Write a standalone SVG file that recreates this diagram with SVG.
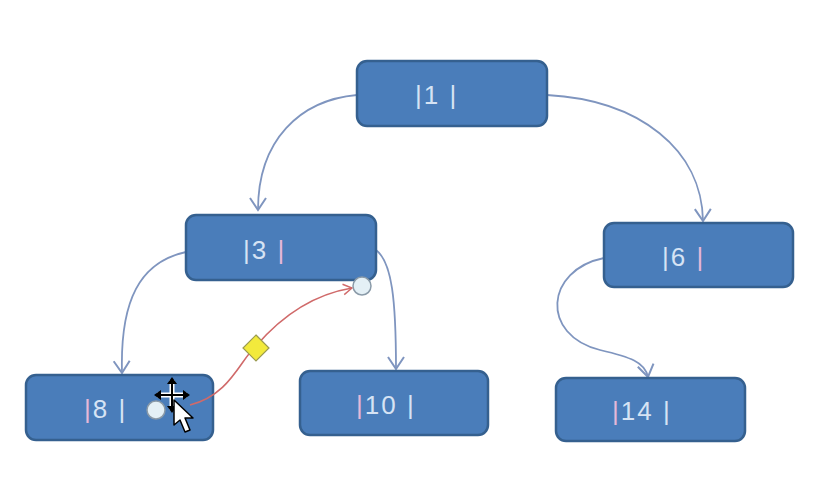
<svg xmlns="http://www.w3.org/2000/svg" width="826" height="490" viewBox="0 0 826 490">
<defs>
<marker id="chev" viewBox="0 0 20 20" refX="18" refY="10" markerWidth="20" markerHeight="20" markerUnits="userSpaceOnUse" orient="auto">
<path d="M6,2 L18,10 L6,18" fill="none" stroke="#7f95bf" stroke-width="2"/>
</marker>
<marker id="redarr" viewBox="0 0 16 16" refX="14" refY="8" markerWidth="14" markerHeight="14" markerUnits="userSpaceOnUse" orient="auto">
<path d="M4,2 L14,8 L4,14" fill="none" stroke="#d06a6a" stroke-width="1.6"/>
</marker>
</defs>
<style>
.box{fill:#4a7dba;stroke:#35608f;stroke-width:2.5}
.lbl{font-family:"Liberation Sans","DejaVu Sans",sans-serif;font-size:26px;letter-spacing:2px;fill:#d6e3f4}
.p{fill:#e6b8d8}
.edge{fill:none;stroke:#7f95bf;stroke-width:1.8}
</style>
<rect width="826" height="490" fill="#ffffff"/>
<g id="connectors">
<path class="edge" d="M357,95 C300,100 258,140 258,210" marker-end="url(#chev)"/>
<path class="edge" d="M547,95 C640,100 702,150 703,221" marker-end="url(#chev)"/>
<path class="edge" d="M186,252 C140,262 120,300 122,373" marker-end="url(#chev)"/>
<path class="edge" d="M376,250 C392,262 396,300 396,369" marker-end="url(#chev)"/>
<path class="edge" d="M604,258 C545,270 540,335 600,350 C630,357 645,362 648,377" marker-end="url(#chev)"/>
</g>
<g id="n1"><rect class="box" x="357" y="61" width="190" height="65" rx="10"/><text class="lbl" x="415" y="104">|1 |</text></g>
<g id="n3"><rect class="box" x="186" y="215" width="190" height="65" rx="10"/><text class="lbl" x="243" y="259">|3 <tspan class="p">|</tspan></text></g>
<g id="n6"><rect class="box" x="604" y="223" width="189" height="64" rx="10"/><text class="lbl" x="662" y="266">|6 <tspan class="p">|</tspan></text></g>
<g id="n8"><rect class="box" x="26" y="375" width="187" height="65" rx="10"/><text class="lbl" x="84" y="418"><tspan class="p">|</tspan>8 |</text></g>
<g id="n10"><rect class="box" x="300" y="371" width="188" height="64" rx="10"/><text class="lbl" x="356" y="414"><tspan class="p">|</tspan>10 |</text></g>
<g id="n14"><rect class="box" x="556" y="378" width="189" height="63" rx="10"/><text class="lbl" x="612" y="420"><tspan class="p">|</tspan>14 |</text></g>
<g id="selection">
<path d="M190,405 C230,395 240,360 256,346 C280,318 310,295 352,288" fill="none" stroke="#d06a6a" stroke-width="1.6" marker-end="url(#redarr)"/>
<circle cx="362" cy="286" r="9" fill="#e4f0f6" stroke="#8a9aa8" stroke-width="1.5"/>
<circle cx="156" cy="410" r="9" fill="#e4f0f6" stroke="#8a9aa8" stroke-width="1.5"/>
<polygon points="256,335 269,348 256,361 243,348" fill="#f2ea3c" stroke="#9a9a50" stroke-width="1.2"/>
<g id="cursor" stroke-linejoin="round">
<path d="M172,380 L172,410 M157,395 L187,395" stroke="#ffffff" stroke-width="5"/>
<path d="M172,380 L172,410 M157,395 L187,395" stroke="#000000" stroke-width="2"/>
<polygon points="172,377 167,384 177,384" fill="#000"/>
<polygon points="172,413 167,406 177,406" fill="#000"/>
<polygon points="154,395 161,390 161,400" fill="#000"/>
<polygon points="190,395 183,390 183,400" fill="#000"/>
<polygon points="174,400 174,425 180,420 185,432 190,430 185,418 193,418" fill="#ffffff" stroke="#000000" stroke-width="1.5"/>
</g>
</g>
</svg>
